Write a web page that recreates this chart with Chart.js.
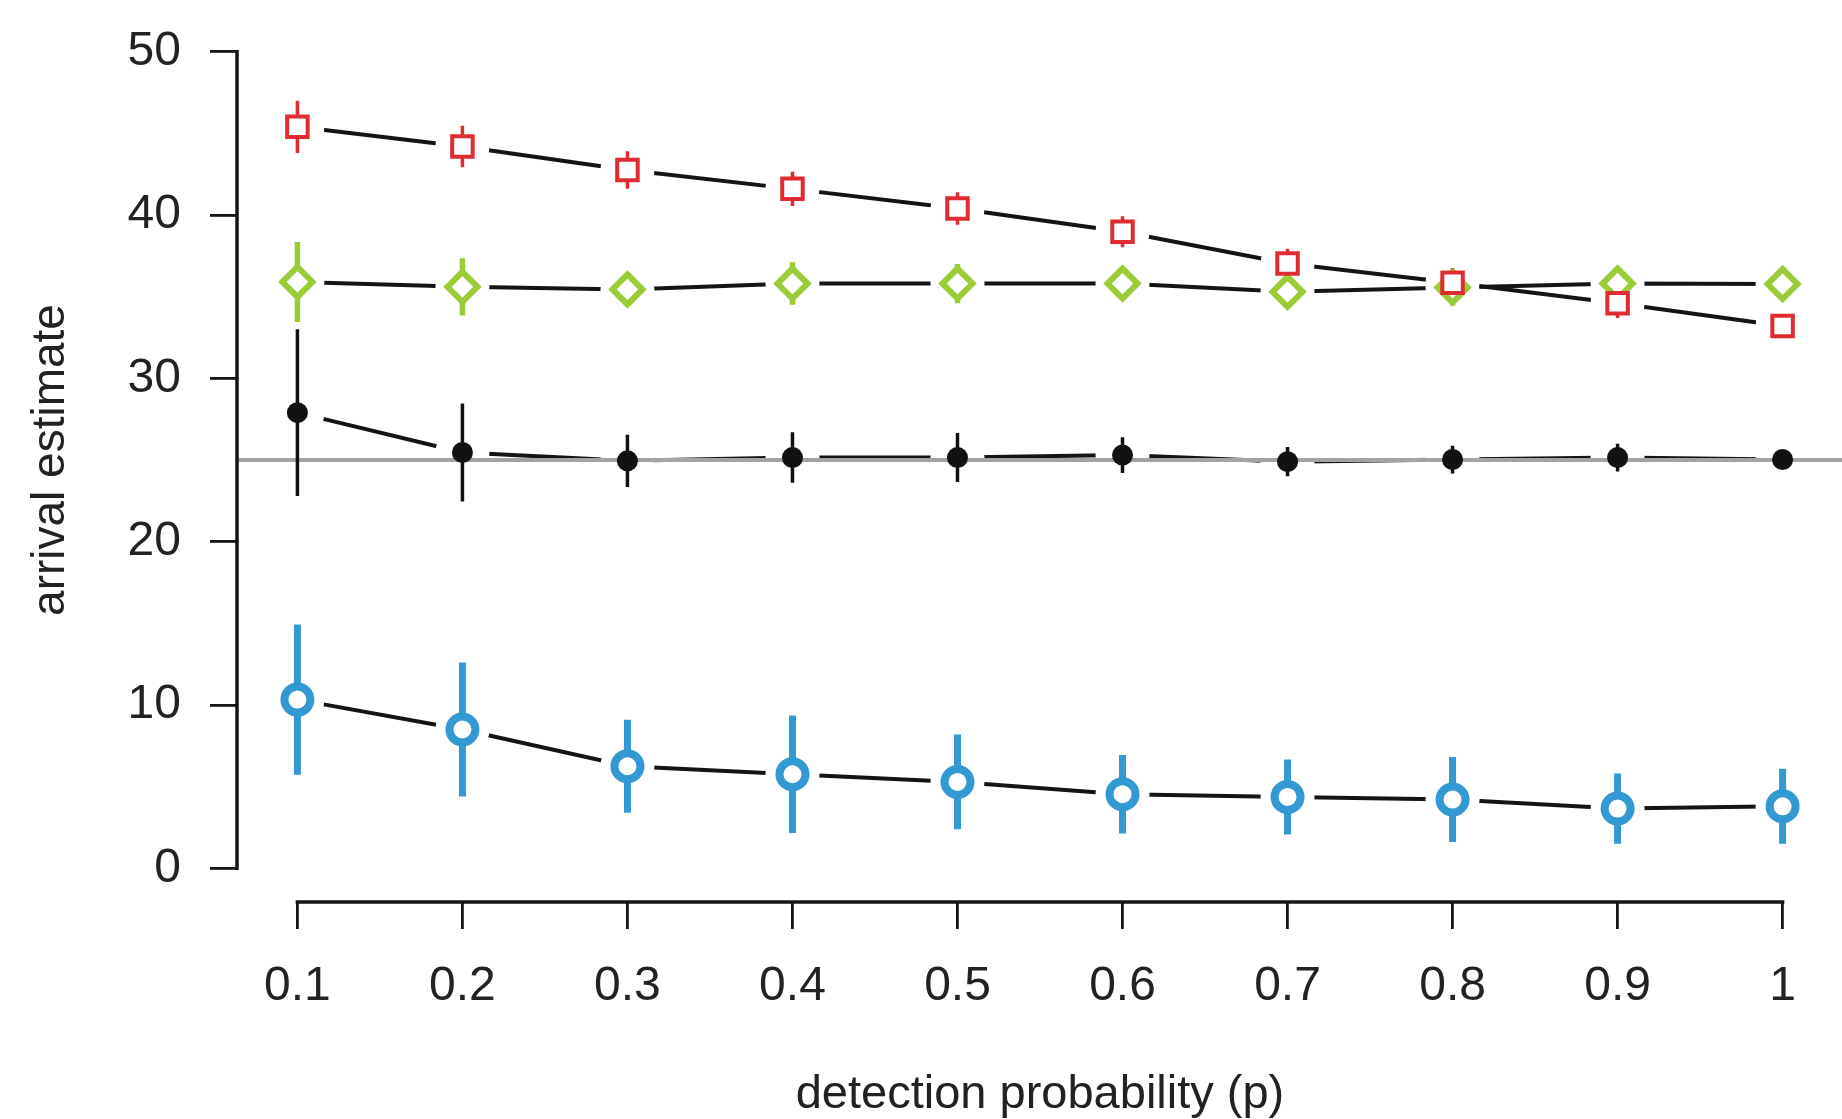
<!DOCTYPE html>
<html>
<head>
<meta charset="utf-8">
<script src="https://cdn.jsdelivr.net/npm/chart.js@4"></script>
<style>
  html, body { margin: 0; padding: 0; background: #fff; }
  #wrap { width: 1842px; height: 1119px; }
</style>
</head>
<body>
<div id="wrap"><canvas id="chart"></canvas></div>
<script>
// detection probability
const pValues = [0.1, 0.2, 0.3, 0.4, 0.5, 0.6, 0.7, 0.8, 0.9, 1];
const xTickLabels = ['0.1', '0.2', '0.3', '0.4', '0.5', '0.6', '0.7', '0.8', '0.9', '1'];
const yTicks = [0, 10, 20, 30, 40, 50];
const trueArrival = 25;

// estimates and error bar half widths
const redMean = [45.4, 44.2, 42.75, 41.6, 40.4, 38.97, 37.03, 35.85, 34.6, 33.2];
const redErr = [1.6, 1.27, 1.15, 1.05, 1.0, 0.95, 0.9, 0.9, 0.9, 0.5];
const greenMean = [35.9, 35.6, 35.44, 35.8, 35.8, 35.8, 35.3, 35.56, 35.8, 35.77];
const greenErr = [2.45, 1.75, 1.0, 1.3, 1.2, 1.0, 1.0, 1.1, 1.0, 0.9];
const blackMean = [27.9, 25.46, 24.95, 25.15, 25.15, 25.3, 24.9, 25.03, 25.15, 25.03];
const blackErr = [5.1, 3.0, 1.6, 1.55, 1.5, 1.1, 0.9, 0.85, 0.85, 0.5];
const blueMean = [10.33, 8.5, 6.25, 5.76, 5.29, 4.54, 4.37, 4.21, 3.66, 3.8];
const blueErr = [4.6, 4.1, 2.85, 3.6, 2.9, 2.4, 2.3, 2.6, 2.15, 2.3];

// R style axis range (4% extension)
const xMin = 0.064, xMax = 1.036;
const yMin = -2, yMax = 52;

const FONT = 'Liberation Sans, Arial, Helvetica, sans-serif';

const series = [
  { mean: redMean, err: redErr, color: '#e02c30', style: 'rect', radius: 14.5, bw: 4, fill: '#fff', barW: 3.5 },
  { mean: greenMean, err: greenErr, color: '#9bcb35', style: 'rectRot', radius: 15, bw: 6, fill: '#fff', barW: 5.5 },
  { mean: blackMean, err: blackErr, color: '#111111', style: 'circle', radius: 10.5, bw: 0, fill: '#111111', barW: 3.5 },
  { mean: blueMean, err: blueErr, color: '#3399d2', style: 'circle', radius: 13, bw: 8, fill: '#fff', barW: 7 }
];

function points(mean) {
  return pValues.map((x, i) => ({ x: x, y: mean[i] }));
}

function errorBars(mean, err) {
  const out = [];
  pValues.forEach((x, i) => {
    out.push({ x: x, y: mean[i] - err[i] });
    out.push({ x: x, y: mean[i] + err[i] });
    out.push({ x: x, y: null });
  });
  return out;
}

const datasets = [];
series.forEach((s, k) => {
  // connecting line, with white discs cutting gaps round the points (R type="b")
  datasets.push({
    data: points(s.mean),
    borderColor: '#141414',
    borderWidth: 4,
    pointRadius: 27,
    pointBackgroundColor: '#fff',
    pointBorderWidth: 0,
    pointBorderColor: 'rgba(0,0,0,0)',
    order: 40 + k
  });
  datasets.push({
    data: errorBars(s.mean, s.err),
    borderColor: s.color,
    borderWidth: s.barW,
    pointRadius: 0,
    spanGaps: false,
    order: 20 + k
  });
  datasets.push({
    data: points(s.mean),
    showLine: false,
    pointStyle: s.style,
    pointRadius: s.radius,
    pointBorderWidth: s.bw,
    pointBorderColor: s.color,
    pointBackgroundColor: s.fill,
    order: 10 + k
  });
});

// true arrival reference line
datasets.push({
  data: [{ x: xMin, y: trueArrival }, { x: xMax, y: trueArrival }],
  borderColor: '#a3a3a3',
  borderWidth: 4,
  pointRadius: 0,
  order: 30
});

// axis lines drawn only over the tick range, like R's axis()
const axisLines = {
  id: 'axisLines',
  afterDraw(chart) {
    const { ctx, chartArea, scales } = chart;
    ctx.save();
    ctx.strokeStyle = '#151515';
    ctx.lineWidth = 3.5;
    ctx.lineCap = 'square';
    ctx.beginPath();
    ctx.moveTo(chartArea.left - 1, scales.y.getPixelForValue(yTicks[0]));
    ctx.lineTo(chartArea.left - 1, scales.y.getPixelForValue(yTicks[yTicks.length - 1]));
    ctx.moveTo(scales.x.getPixelForValue(pValues[0]), chartArea.bottom + 1);
    ctx.lineTo(scales.x.getPixelForValue(pValues[pValues.length - 1]), chartArea.bottom + 1);
    ctx.stroke();
    ctx.restore();
  }
};

const ctx = document.getElementById('chart');
new Chart(ctx, {
  type: 'line',
  data: { datasets: datasets },
  options: {
    responsive: true,
    maintainAspectRatio: false,
    animation: false,
    events: [],
    layout: { autoPadding: false, padding: { top: 19, left: 0, right: 0, bottom: 0 } },
    plugins: { legend: { display: false }, tooltip: { enabled: false } },
    scales: {
      x: {
        type: 'linear',
        min: xMin,
        max: xMax,
        afterBuildTicks: scale => { scale.ticks = pValues.map(v => ({ value: v })); },
        afterFit: scale => { scale.height = 218; scale.paddingLeft = 0; scale.paddingRight = 0; },
        ticks: {
          autoSkip: false,
          maxRotation: 0,
          padding: 29,
          color: '#222',
          font: { family: FONT, size: 48 },
          callback: (v, i) => xTickLabels[i]
        },
        grid: { display: true, drawOnChartArea: false, drawTicks: true, tickLength: 28, color: '#151515', lineWidth: 2.8 },
        border: { display: false },
        title: {
          display: true,
          text: 'detection probability (p)',
          color: '#222',
          font: { family: FONT, size: 47, lineHeight: 1 },
          padding: { top: 0, bottom: 0 }
        }
      },
      y: {
        type: 'linear',
        min: yMin,
        max: yMax,
        afterBuildTicks: scale => { scale.ticks = yTicks.map(v => ({ value: v })); },
        afterFit: scale => { scale.width = 238; scale.paddingTop = 0; scale.paddingBottom = 0; },
        ticks: {
          padding: 29,
          color: '#222',
          font: { family: FONT, size: 48 },
          callback: v => String(v)
        },
        grid: { display: true, drawOnChartArea: false, drawTicks: true, tickLength: 28, color: '#151515', lineWidth: 2.8 },
        border: { display: false },
        title: {
          display: true,
          text: 'arrival estimate',
          color: '#222',
          font: { family: FONT, size: 46, lineHeight: 1 },
          padding: { top: 28, bottom: 0 }
        }
      }
    }
  },
  plugins: [axisLines]
});
</script>
</body>
</html>
